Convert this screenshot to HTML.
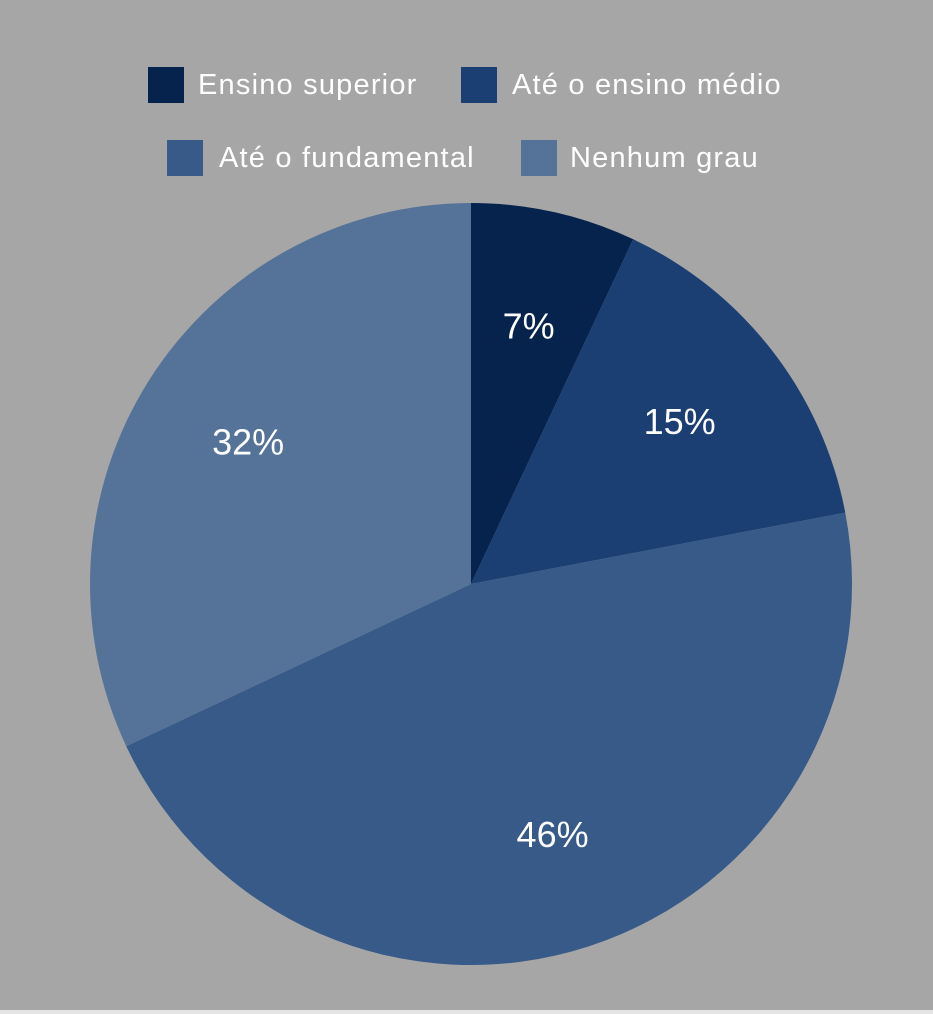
<!DOCTYPE html>
<html><head><meta charset="utf-8"><style>
html,body{margin:0;padding:0;background:#a6a6a6;}
svg{display:block;font-family:"Liberation Sans",sans-serif;}
.lg{letter-spacing:1.2px;}
</style></head><body>
<svg width="933" height="1014">
<rect x="0" y="0" width="933" height="1014" fill="#a6a6a6"/>
<rect x="0" y="1010" width="933" height="4" fill="#e4e4e4"/>
<g id="legend">
<g><rect x="148" y="67" width="36" height="36" fill="#06234d"/><text class="lg" x="198" y="94" font-size="29" fill="#fff">Ensino superior</text></g>
<g><rect x="461" y="67" width="36" height="36" fill="#1b3f73"/><text class="lg" x="512" y="94" font-size="29" fill="#fff">Até o ensino médio</text></g>
<g><rect x="167" y="140" width="36" height="36" fill="#375a88"/><text class="lg" x="219" y="167" font-size="29" fill="#fff">Até o fundamental</text></g>
<g><rect x="521" y="140" width="36" height="36" fill="#557399"/><text class="lg" x="570" y="167" font-size="29" fill="#fff">Nenhum grau</text></g>
</g>
<g id="slices"></g>
</svg>
<script>
const categories = ["Ensino superior","Até o ensino médio","Até o fundamental","Nenhum grau"];
const values = [7,15,46,32];
const labels = ["7%","15%","46%","32%"];
const colors = ["#06234d","#1b3f73","#375a88","#557399"];
const cx=471, cy=584, R=381, LR=264;
const g=document.getElementById('slices');
const NS="http://www.w3.org/2000/svg";
const total=values.reduce((a,b)=>a+b,0);
let acc=0;
function pt(a,r){return [cx+r*Math.sin(a), cy-r*Math.cos(a)];}
values.forEach((v,i)=>{
  const a0=acc/total*2*Math.PI; acc+=v; const a1=acc/total*2*Math.PI;
  const p0=pt(a0,R), p1=pt(a1,R);
  const large=(a1-a0)>Math.PI?1:0;
  const path=document.createElementNS(NS,'path');
  path.setAttribute('d',`M${cx},${cy} L${p0[0]},${p0[1]} A${R},${R} 0 ${large} 1 ${p1[0]},${p1[1]} Z`);
  path.setAttribute('fill',colors[i]);
  
  
  g.appendChild(path);
  const am=(a0+a1)/2, lp=pt(am,LR);
  const t=document.createElementNS(NS,'text');
  t.setAttribute('x',lp[0]); t.setAttribute('y',lp[1]+12);
  t.setAttribute('text-anchor','middle'); t.setAttribute('font-size','36'); t.setAttribute('fill','#fff');
  t.textContent=labels[i];
  
  
  g.appendChild(t);
});
</script>
</body></html>
